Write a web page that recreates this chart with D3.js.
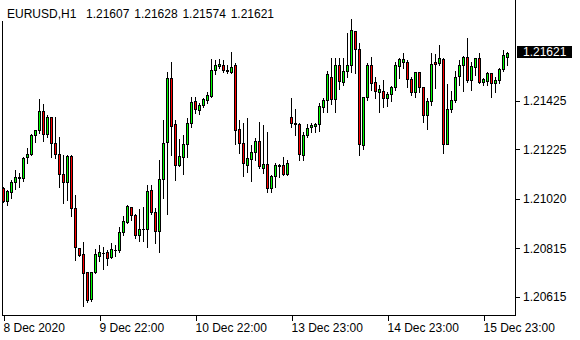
<!DOCTYPE html>
<html>
<head>
<meta charset="utf-8">
<script src="https://cdn.jsdelivr.net/npm/d3@7"></script>
<style>
html,body{margin:0;padding:0;background:#fff;}
svg{display:block;}
text{font-family:"Liberation Sans",Arial,sans-serif;font-size:12px;fill:#000;}
</style>
</head>
<body>
<svg id="chart" width="580" height="340"></svg>
<script>
const symbolLabel = "EURUSD,H1";
const headerValues = ["1.21607", "1.21628", "1.21574", "1.21621"];

const openP = [1.21061,1.21011,1.21047,1.21087,1.21103,1.21105,1.21192,1.21204,1.21283,1.21304,
1.21382,1.21287,1.21358,1.21250,1.21204,1.21122,1.21088,1.21197,1.20981,1.20815,
1.20788,1.20714,1.20604,1.20716,1.20782,1.20795,1.20796,1.20779,1.20808,1.20808,
1.20882,1.20923,1.20985,1.20953,1.20868,1.20895,1.20894,1.21055,1.20963,1.20884,
1.21101,1.21252,1.21519,1.21326,1.21156,1.21190,1.21243,1.21330,1.21422,1.21385,
1.21406,1.21426,1.21443,1.21550,1.21567,1.21574,1.21553,1.21545,1.21570,1.21305,
1.21250,1.21160,1.21184,1.21211,1.21259,1.21146,1.21163,1.21061,1.21112,1.21156,
1.21156,1.21122,1.21356,1.21333,1.21326,1.21199,1.21281,1.21316,1.21319,1.21329,
1.21399,1.21429,1.21523,1.21432,1.21574,1.21502,1.21546,1.21570,1.21712,1.21639,
1.21240,1.21440,1.21574,1.21502,1.21461,1.21466,1.21436,1.21453,1.21482,1.21567,
1.21585,1.21585,1.21515,1.21459,1.21544,1.21482,1.21363,1.21422,1.21584,1.21581,
1.21598,1.21247,1.21391,1.21429,1.21526,1.21570,1.21606,1.21509,1.21564,1.21602,
1.21501,1.21505,1.21540,1.21498,1.21509,1.21556,1.21607];

const highP = [1.21070,1.21057,1.21098,1.21139,1.21128,1.21194,1.21229,1.21288,1.21307,1.21433,
1.21413,1.21367,1.21359,1.21360,1.21277,1.21201,1.21201,1.21201,1.21036,1.20816,
1.20840,1.20718,1.20718,1.20811,1.20829,1.20822,1.20808,1.20836,1.20830,1.20905,
1.20949,1.20995,1.20986,1.20957,1.20978,1.20985,1.21077,1.21077,1.20981,1.21181,
1.21346,1.21544,1.21585,1.21346,1.21266,1.21284,1.21356,1.21440,1.21443,1.21415,
1.21439,1.21463,1.21599,1.21595,1.21598,1.21595,1.21574,1.21629,1.21581,1.21346,
1.21333,1.21353,1.21243,1.21271,1.21339,1.21326,1.21298,1.21119,1.21167,1.21163,
1.21194,1.21181,1.21436,1.21392,1.21333,1.21298,1.21330,1.21333,1.21335,1.21415,
1.21439,1.21549,1.21602,1.21602,1.21602,1.21604,1.21705,1.21763,1.21715,1.21664,
1.21440,1.21581,1.21608,1.21526,1.21490,1.21512,1.21463,1.21488,1.21588,1.21604,
1.21625,1.21595,1.21526,1.21546,1.21544,1.21484,1.21436,1.21622,1.21620,1.21657,
1.21602,1.21494,1.21468,1.21549,1.21595,1.21611,1.21684,1.21588,1.21604,1.21622,
1.21519,1.21546,1.21542,1.21526,1.21560,1.21636,1.21628];

const lowP = [1.21005,1.20995,1.21022,1.21061,1.21070,1.21095,1.21167,1.21201,1.21254,1.21291,
1.21261,1.21277,1.21194,1.21188,1.21070,1.21002,1.21015,1.20950,1.20767,1.20783,
1.20577,1.20594,1.20598,1.20714,1.20763,1.20728,1.20746,1.20774,1.20785,1.20801,
1.20870,1.20919,1.20933,1.20857,1.20847,1.20847,1.20822,1.20957,1.20839,1.20801,
1.21025,1.20957,1.21201,1.21098,1.21154,1.21123,1.21194,1.21316,1.21374,1.21370,
1.21399,1.21415,1.21442,1.21537,1.21560,1.21546,1.21542,1.21542,1.21247,1.21209,
1.21115,1.21132,1.21095,1.21181,1.21146,1.21126,1.21050,1.21050,1.21070,1.21112,
1.21119,1.21119,1.21319,1.21284,1.21181,1.21181,1.21277,1.21298,1.21298,1.21302,
1.21381,1.21381,1.21413,1.21381,1.21473,1.21491,1.21526,1.21546,1.21540,1.21201,
1.21225,1.21429,1.21471,1.21436,1.21381,1.21401,1.21404,1.21426,1.21471,1.21519,
1.21563,1.21484,1.21450,1.21443,1.21463,1.21339,1.21308,1.21408,1.21478,1.21574,
1.21209,1.21245,1.21381,1.21422,1.21491,1.21466,1.21505,1.21471,1.21533,1.21498,
1.21491,1.21491,1.21443,1.21463,1.21498,1.21550,1.21574];

const closeP = [1.21008,1.21052,1.21088,1.21109,1.21109,1.21189,1.21204,1.21284,1.21304,1.21382,
1.21287,1.21358,1.21250,1.21204,1.21122,1.21088,1.21197,1.20981,1.20819,1.20785,
1.20712,1.20601,1.20716,1.20788,1.20796,1.20792,1.20774,1.20811,1.20807,1.20882,
1.20927,1.20988,1.20953,1.20868,1.20894,1.20892,1.21052,1.20963,1.20884,1.21102,
1.21250,1.21519,1.21319,1.21156,1.21197,1.21246,1.21333,1.21420,1.21391,1.21408,
1.21432,1.21446,1.21553,1.21570,1.21578,1.21550,1.21548,1.21564,1.21302,1.21250,
1.21167,1.21188,1.21213,1.21259,1.21153,1.21163,1.21061,1.21112,1.21160,1.21157,
1.21122,1.21167,1.21333,1.21327,1.21204,1.21284,1.21312,1.21322,1.21326,1.21404,
1.21429,1.21533,1.21432,1.21574,1.21505,1.21549,1.21570,1.21715,1.21639,1.21243,
1.21440,1.21574,1.21498,1.21465,1.21471,1.21436,1.21454,1.21482,1.21570,1.21595,
1.21595,1.21515,1.21459,1.21542,1.21482,1.21364,1.21422,1.21577,1.21577,1.21602,
1.21247,1.21391,1.21426,1.21523,1.21574,1.21606,1.21509,1.21567,1.21602,1.21501,
1.21512,1.21540,1.21498,1.21508,1.21556,1.21615,1.21621];

const xTickBars = [0, 24, 48, 72, 96, 120];
const xTickLabels = ["8 Dec 2020", "9 Dec 22:00", "10 Dec 22:00", "13 Dec 23:00", "14 Dec 23:00", "15 Dec 23:00"];
const yTickValues = [1.21425, 1.21225, 1.21020, 1.20815, 1.20615];

(function () {
const bars = openP.map((o, i) => ({i, o, h: highP[i], l: lowP[i], c: closeP[i]}));

const svg = d3.select("#chart");
const pLeft = 2.5, pRight = 515.5, pTop = 2, pBottom = 315.5;

const x = d3.scaleLinear().domain([0, 128]).range([3.5, 515.5]);
const y = d3.scaleLinear().domain([1.205372, 1.218348]).range([pBottom, pTop]);

// frame
svg.append("path")
  .attr("d", `M${pLeft},0 V${pBottom} H${pRight} V0`)
  .attr("fill", "none").attr("stroke", "#000").attr("stroke-width", 1)
  .attr("shape-rendering", "crispEdges");

// candles
const g = svg.append("g").attr("shape-rendering", "crispEdges");
g.selectAll("line.wick").data(bars).enter().append("line")
  .attr("class", "wick")
  .attr("x1", d => x(d.i)).attr("x2", d => x(d.i))
  .attr("y1", d => y(d.h)).attr("y2", d => y(d.l) + 1)
  .attr("stroke", "#000").attr("stroke-width", 1);
g.selectAll("rect.body").data(bars).enter().append("rect")
  .attr("class", "body")
  .attr("x", d => x(d.i) - 1)
  .attr("width", 2)
  .attr("y", d => y(Math.max(d.o, d.c)))
  .attr("height", d => Math.max(Math.abs(y(d.o) - y(d.c)), 0.6))
  .attr("fill", d => d.c >= d.o ? "#00ff00" : "#ff0000")
  .attr("stroke", "#000").attr("stroke-width", 1);

// x axis
const xAxis = d3.axisBottom(x).tickValues(xTickBars)
  .tickFormat((d, k) => xTickLabels[k]).tickSize(5).tickPadding(3);
const gx = svg.append("g").attr("transform", `translate(0,${pBottom})`).call(xAxis);
gx.select(".domain").remove();
gx.selectAll("line").attr("stroke", "#000").attr("shape-rendering", "crispEdges");
gx.selectAll("text").attr("text-anchor", "start").attr("x", -0.5)
  .attr("dy", null).attr("y", 16)
  .style("font-family", "Liberation Sans, Arial, sans-serif").style("font-size", "12px").attr("fill", "#000");

// y axis
const yAxis = d3.axisRight(y).tickValues(yTickValues)
  .tickFormat(d3.format(".5f")).tickSize(4).tickPadding(3.5);
const gy = svg.append("g").attr("transform", `translate(${pRight},0)`).call(yAxis);
gy.select(".domain").remove();
gy.selectAll("line").attr("stroke", "#000").attr("shape-rendering", "crispEdges");
gy.selectAll("text")
  .style("font-family", "Liberation Sans, Arial, sans-serif").style("font-size", "12px").attr("fill", "#000");

// last price box
const lastC = closeP[closeP.length - 1];
const ly = y(lastC) - 1.5;
svg.append("rect").attr("x", pRight + 1).attr("y", ly - 6).attr("width", 55).attr("height", 12)
  .attr("fill", "#000").attr("shape-rendering", "crispEdges");
svg.append("text").attr("x", pRight + 7.5).attr("y", ly).attr("dy", "0.35em")
  .style("fill", "#fff").text(d3.format(".5f")(lastC));

// header
const header = svg.append("g");
const bg = header.append("rect").attr("x", 0).attr("y", 0).attr("height", 21).attr("fill", "#fff");
const ht = header.append("text").attr("x", 7).attr("y", 18)
  .attr("xml:space", "preserve").style("white-space", "pre")
  .attr("word-spacing", "1.5px")
  .text(symbolLabel + "  " + headerValues.join(" "));
bg.attr("width", ht.node().getComputedTextLength() + 14);
})();
</script>
</body>
</html>
